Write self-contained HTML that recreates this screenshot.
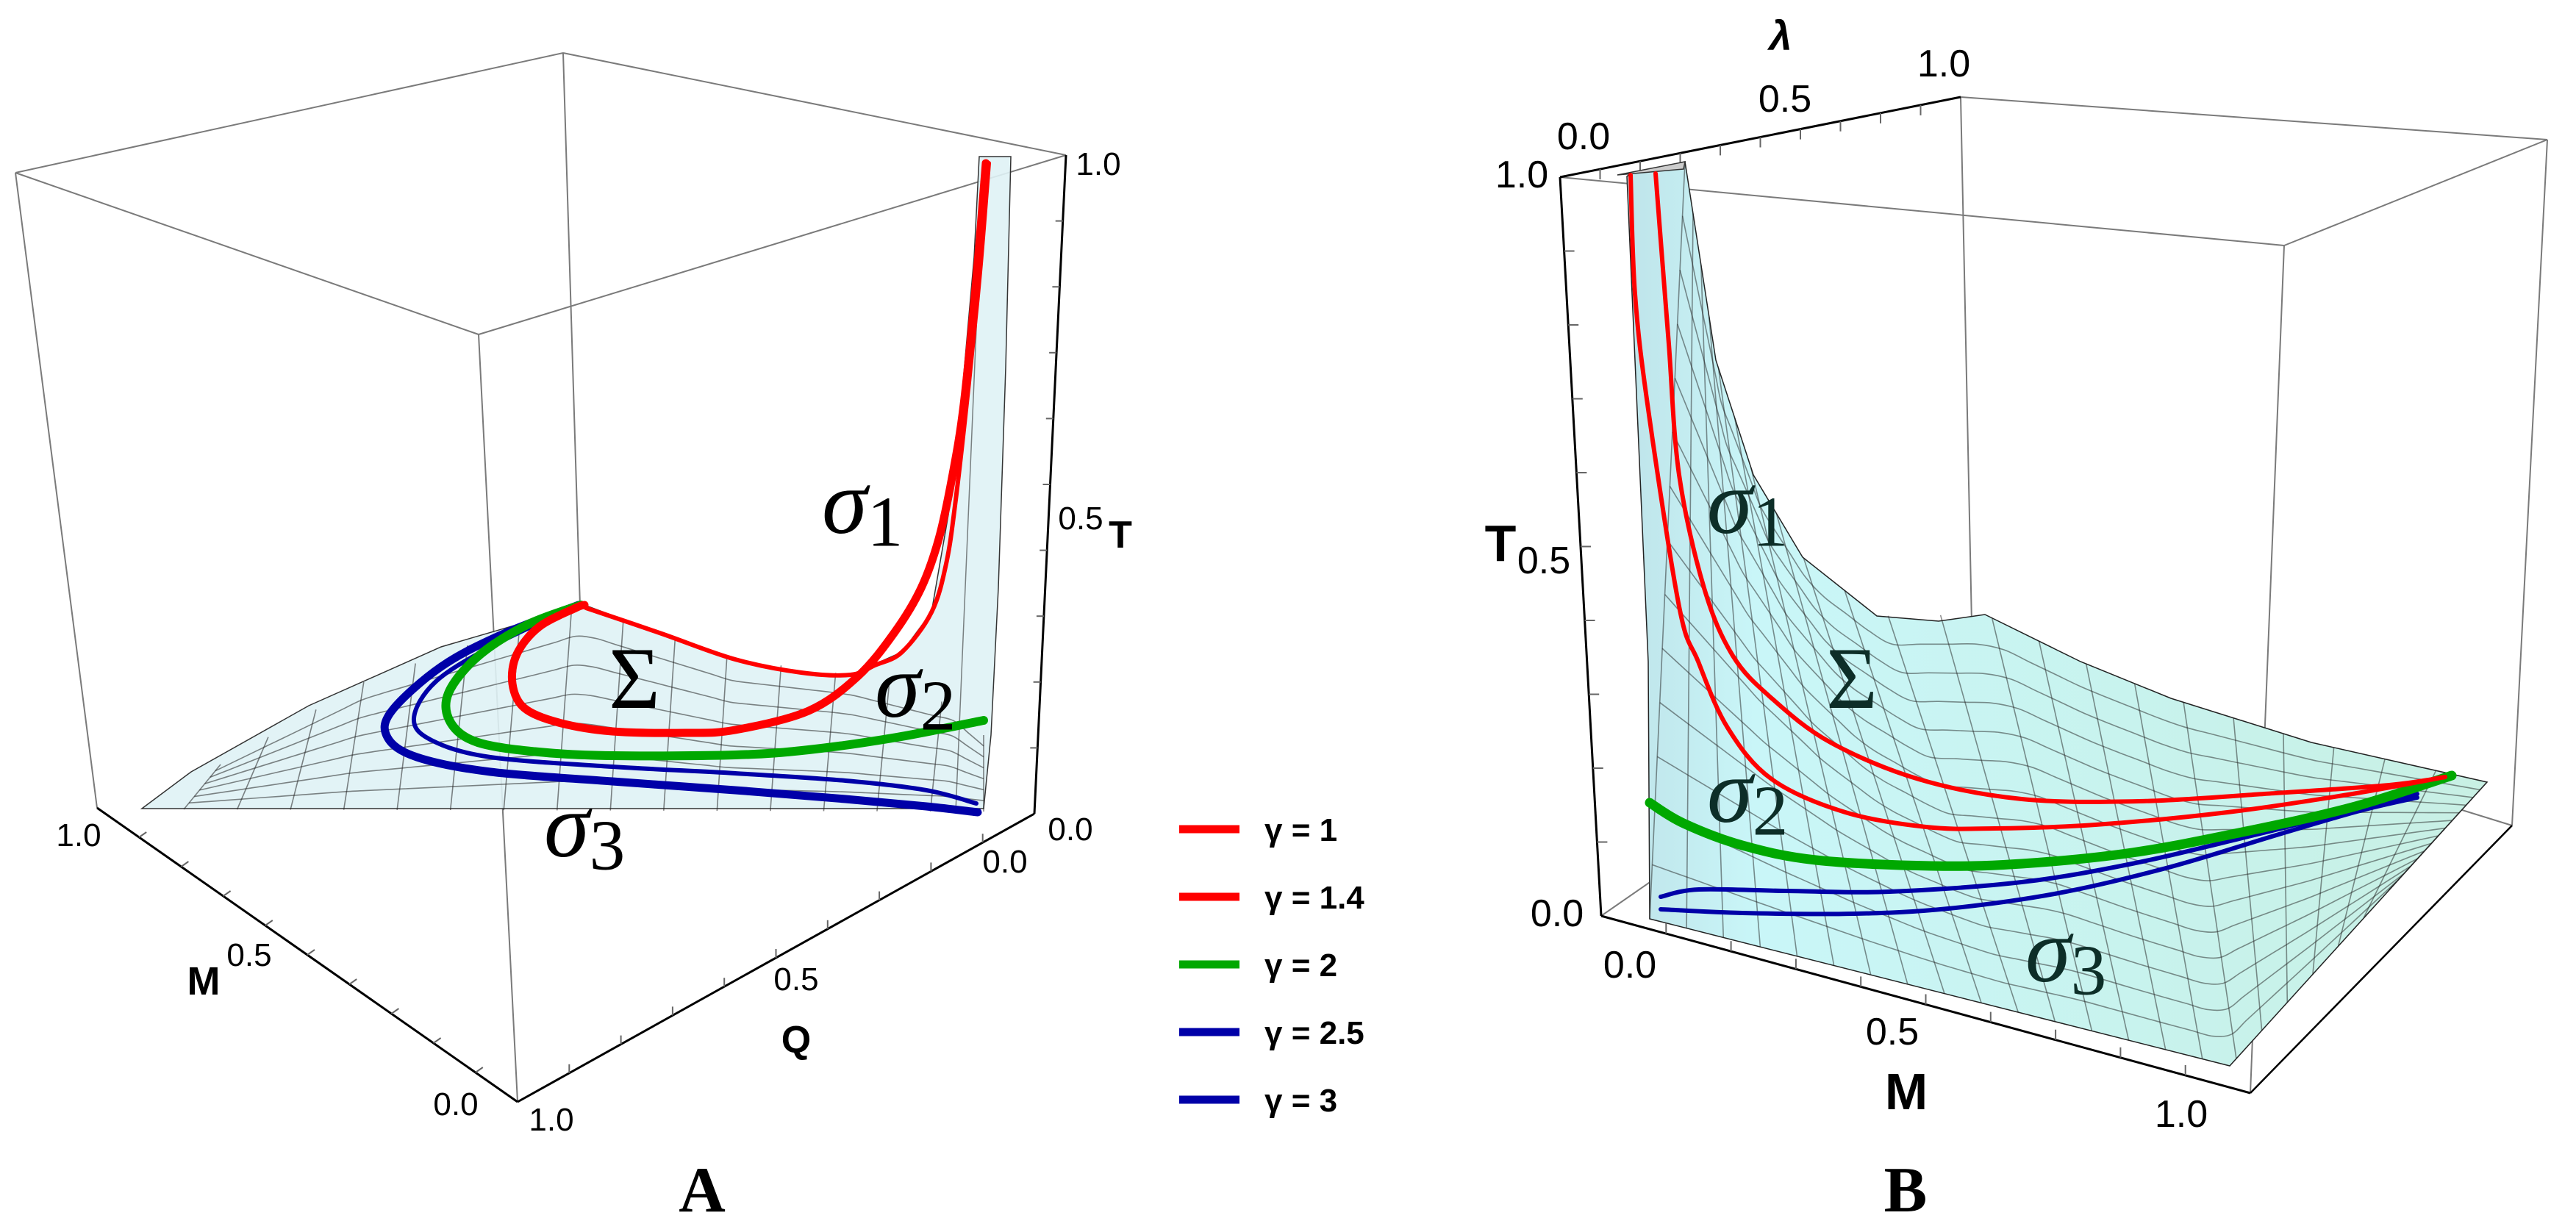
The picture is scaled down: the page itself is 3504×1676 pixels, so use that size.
<!DOCTYPE html>
<html><head><meta charset="utf-8">
<style>
html,body{margin:0;padding:0;background:#fff;}
svg{display:block;}
.tk{font-family:"Liberation Sans",sans-serif;fill:#000;}
.ax{font-family:"Liberation Sans",sans-serif;font-weight:bold;fill:#000;}
.gr{font-family:"Liberation Serif",serif;font-style:italic;}
.up{font-family:"Liberation Serif",serif;font-style:normal;}
</style></head>
<body>
<svg id="fig" width="3504" height="1676" viewBox="0 0 3504 1676" xmlns="http://www.w3.org/2000/svg">
<g id="panelA"></g>
<g id="panelB"></g>
<g id="legend"></g>
</svg>
<script>
// ---------- data (frame units: panel-relative screen frame) ----------
const legendLabels = ["\u03b3 = 1","\u03b3 = 1.4","\u03b3 = 2","\u03b3 = 2.5","\u03b3 = 3"];
const legendColors = ["#ff0000","#ff0000","#00a800","#0000a8","#0000a8"];
const tickLabels = ["0.0","0.5","1.0"];

// Panel A curves (frame u, v)
const aRedThickU = [795,783,733,703,697,713,760,833,933,1000,1100,1167,1217,1253,1277,1295,1311,1328,1341];
const aRedThickV = [823,827,853,890,930,963,983,995,997,993,967,920,860,800,733,650,550,380,222];
const aRedThinU = [797,900,1000,1090,1157,1190,1227,1267,1287,1300,1318,1333,1345];
const aRedThinV = [827,862,897,915,918,905,887,833,767,680,520,370,222];
const aGreenU = [790,717,650,610,613,650,733,833,1000,1100,1220,1338];
const aGreenV = [823,850,893,943,983,1010,1023,1028,1027,1020,1003,980];
const aBlueThinU = [787,673,593,563,587,667,833,1000,1150,1260,1328];
const aBlueThinV = [823,877,927,977,1007,1030,1043,1052,1062,1075,1093];
const aBlueThickU = [787,683,600,533,527,567,667,833,1000,1150,1260,1330];
const aBlueThickV = [823,863,907,967,1003,1030,1050,1063,1075,1087,1097,1105];

// Panel B curves (frame u, v)
const bRedUpU = [502,510,520,534,568,607,660,740,860,1000,1160,1330,1500,1576];
const bRedUpV = [236,340,468,646,800,892,950,1010,1060,1087,1090,1080,1068,1057];
const bRedLoU = [468,474,492,534,560,600,660,760,870,963,1100,1280,1450,1576];
const bRedLoV = [238,400,557,825,900,990,1060,1105,1125,1127,1122,1105,1080,1057];
const bGreenU = [494,540,620,720,877,1000,1150,1300,1450,1585];
const bGreenV = [1092,1120,1150,1170,1178,1175,1160,1132,1098,1055];
const bBlueUpU = [509,561,680,820,1000,1150,1300,1440,1538];
const bBlueUpV = [1220,1210,1212,1213,1200,1175,1140,1105,1080];
const bBlueLoU = [509,620,772,900,1050,1200,1350,1460,1538];
const bBlueLoV = [1237,1242,1243,1236,1215,1180,1135,1103,1085];

// ---------- axis functions ----------
const axA = {x:u=>u, y:v=>v};
const axB = {x:u=>1750+u, y:v=>v};

const NS="http://www.w3.org/2000/svg";
function el(tag, attrs, parent){const e=document.createElementNS(NS,tag);for(const k in attrs)e.setAttribute(k,attrs[k]);parent.appendChild(e);return e;}
function crPath(pts){
  let d="M"+pts[0][0].toFixed(1)+","+pts[0][1].toFixed(1);
  for(let i=0;i<pts.length-1;i++){
    const p0=pts[Math.max(0,i-1)],p1=pts[i],p2=pts[i+1],p3=pts[Math.min(pts.length-1,i+2)];
    const c1=[p1[0]+(p2[0]-p0[0])/6,p1[1]+(p2[1]-p0[1])/6];
    const c2=[p2[0]-(p3[0]-p1[0])/6,p2[1]-(p3[1]-p1[1])/6];
    d+=" C"+c1[0].toFixed(1)+","+c1[1].toFixed(1)+" "+c2[0].toFixed(1)+","+c2[1].toFixed(1)+" "+p2[0].toFixed(1)+","+p2[1].toFixed(1);
  }
  return d;
}
function pts(ax,U,V){return U.map((u,i)=>[ax.x(u),ax.y(V[i])]);}
function line(g,a,b,color,w){return el("line",{x1:a[0],y1:a[1],x2:b[0],y2:b[1],stroke:color,"stroke-width":w},g);}
function txt(g,x,y,s,cls,size,anchor,fill){const t=el("text",{x:x,y:y,class:cls,"font-size":size,"text-anchor":anchor||"middle"},g);if(fill)t.setAttribute("fill",fill);t.textContent=s;return t;}
function lerp(a,b,t){return [a[0]+(b[0]-a[0])*t,a[1]+(b[1]-a[1])*t];}
function polyAt(P,t){
  let L=[0];for(let i=1;i<P.length;i++)L.push(L[i-1]+Math.hypot(P[i][0]-P[i-1][0],P[i][1]-P[i-1][1]));
  const tg=t*L[L.length-1];for(let i=1;i<P.length;i++){if(tg<=L[i]){const f=(tg-L[i-1])/((L[i]-L[i-1])||1);return lerp(P[i-1],P[i],f);}}return P[P.length-1];
}
function curve(g,P,color,w,name){
  const p=el("path",{d:crPath(P),fill:"none",stroke:color,"stroke-width":w,"stroke-linecap":"round","stroke-linejoin":"round"},g);
  
  
  return p;
}
function mesh(g,C1,C2,n,m,op){
  for(let i=0;i<=n;i++){const a=polyAt(C1,i/n),b=polyAt(C2,i/n);line(g,a,b,"#222",1.6).setAttribute("opacity",op);}
  for(let j=1;j<m;j++){const P=[];for(let i=0;i<=40;i++){const a=polyAt(C1,i/40),b=polyAt(C2,i/40);P.push(lerp(a,b,j/m));}
    el("path",{d:crPath(P),fill:"none",stroke:"#222","stroke-width":1.6,opacity:op},g);}
}
function sig(g,x,y,sub,size,fill){const t=el("text",{x:x,y:y,class:"gr","font-size":size,fill:fill},g);t.textContent="\u03c3";
  const s=el("tspan",{"font-size":size*0.78,dy:size*0.14,style:"font-style:normal"},t);s.textContent=sub;return t;}

// ---------- Panel A ----------
const gA=document.getElementById("panelA");
const A={tl:[21,235],bt:[766,72],tr:[1450,211],ft:[651,455],lb:[132,1099],fb:[704,1499],rb:[1407,1107],bb:[789,824]};
[[A.tl,A.bt],[A.bt,A.tr],[A.tr,A.ft],[A.ft,A.tl],[A.tl,A.lb],[A.ft,A.fb],[A.bt,A.bb]].forEach(e=>line(gA,e[0],e[1],"#7a7a7a",2));
const surfA=[[193,1100],[260,1050],[420,960],[600,880],[795,823],[900,862],[1000,897],[1090,915],[1157,918],[1227,887],[1267,833],[1290,700],[1310,520],[1325,350],[1332,213],[1375,213],[1368,500],[1358,800],[1348,1000],[1338,1100]];
const sA=el("path",{d:"M"+surfA.map(p=>p.join(",")).join(" L")+" Z",fill:"#dff2f5",stroke:"#333","stroke-width":1.5,"fill-opacity":0.9},gA);

const mA=el("g",{},gA);
mesh(mA,[[250,1101],[1338,1104]],[[300,1040],[500,925],[795,823],[1000,897],[1157,918],[1300,960],[1338,1000]],15,7,0.55);
line(gA,[1300,1104],[1330,400],"#333",1.5).setAttribute("opacity",0.6);
line(gA,A.lb,A.fb,"#000",3);line(gA,A.fb,A.rb,"#000",3);line(gA,A.tr,A.rb,"#000",3);
for(let i=1;i<10;i++){const p=lerp(A.lb,A.fb,i/10);line(gA,p,[p[0]+10,p[1]-7],"#666",2);
  const q=lerp(A.fb,A.rb,i/10);line(gA,q,[q[0],q[1]-12],"#666",2);
  const r=lerp(A.tr,A.rb,i/10);line(gA,r,[r[0]-10,r[1]],"#666",2);}
curve(gA,pts(axA,aBlueThickU,aBlueThickV),"#0000a8",11,"curve-a-gamma-3");
curve(gA,pts(axA,aBlueThinU,aBlueThinV),"#0000a8",6,"curve-a-gamma-2-5");
curve(gA,pts(axA,aGreenU,aGreenV),"#00a800",12,"curve-a-gamma-2");
curve(gA,pts(axA,aRedThinU,aRedThinV),"#ff0000",6,"curve-a-gamma-1");
curve(gA,pts(axA,aRedThickU,aRedThickV),"#ff0000",11,"curve-a-gamma-1-4");
txt(gA,1494,238,tickLabels[2],"tk",44);
txt(gA,1470,720,tickLabels[1],"tk",44);txt(gA,1524,745,"T","ax",52);
txt(gA,1456,1143,tickLabels[0],"tk",44);
txt(gA,1367,1187,tickLabels[0],"tk",44);txt(gA,1083,1347,tickLabels[1],"tk",44);txt(gA,1083,1432,"Q","ax",52);txt(gA,750,1538,tickLabels[2],"tk",44);
txt(gA,107,1151,tickLabels[2],"tk",44);txt(gA,277,1353,"M","ax",54);txt(gA,339,1314,tickLabels[1],"tk",44);txt(gA,620,1517,tickLabels[0],"tk",44);
sig(gA,1118,725,"1",125,"#000");sig(gA,1190,975,"2",125,"#000");sig(gA,740,1165,"3",125,"#000");
txt(gA,863,963,"\u03a3","up",120,"middle","#000");
txt(gA,955,1648,"A","up",88,"middle","#000").setAttribute("font-weight","bold");

// ---------- Legend ----------
const gL=document.getElementById("legend");
legendLabels.forEach((lab,i)=>{
  const y=1128+i*92;
  const l=line(gL,[1604,y],[1686,y],legendColors[i],11);
  
  const t=txt(gL,1720,y+16,lab,"ax",44,"start");
  
});

// ---------- Panel B ----------
const gB=document.getElementById("panelB");
const B={tl:[2122,241],bt:[2667,132],tr:[3465,190],ft:[3107,334],lb:[2178,1246],fb:[3061,1487],rb:[3417,1123],bk:[2683,896]};
[[B.bt,B.tr],[B.tr,B.ft],[B.tl,B.ft],[B.ft,B.fb],[B.tr,B.rb],[B.bt,B.bk],[B.bk,B.lb],[B.bk,B.rb]].forEach(e=>line(gB,e[0],e[1],"#7a7a7a",2));
line(gB,B.tl,B.bt,"#000",3);
const surfB=[[2213,240],[2218,236],[2292,220],[2334,490],[2385,646],[2452,758],[2553,838],[2637,845],[2700,836],[2830,900],[2953,950],[3144,1010],[3383,1064],[3033,1450],[2244,1250],[2242,900]];
const defs=el("defs",{},gB);
const lg=el("linearGradient",{id:"gb",x1:"0",y1:"0",x2:"1",y2:"0"},defs);
el("stop",{offset:"0","stop-color":"#bfe4ea"},lg);el("stop",{offset:"0.15","stop-color":"#c9f6f8"},lg);el("stop",{offset:"1","stop-color":"#c8f0e4"},lg);
const sB=el("path",{d:"M"+surfB.map(p=>p.join(",")).join(" L")+" Z",fill:"url(#gb)",stroke:"#222","stroke-width":1.5},gB);

const mB=el("g",{},gB);
mesh(mB,[[2244,1250],[3033,1450],[3250,1210]],[[2292,220],[2334,490],[2385,646],[2452,758],[2553,838],[2700,836],[2830,900],[2953,950],[3144,1010],[3383,1064]],22,14,0.5);
line(gB,B.tl,B.lb,"#000",3);line(gB,B.lb,B.fb,"#000",3);line(gB,B.fb,B.rb,"#000",2.5);
for(let i=1;i<10;i++){const p=lerp(B.tl,B.lb,i/10);line(gB,p,[p[0]+14,p[1]],"#666",2);
  const q=lerp(B.lb,B.fb,i/10);line(gB,q,[q[0],q[1]-14],"#666",2);
  const r=lerp(B.tl,B.bt,i/10);line(gB,r,[r[0],r[1]+14],"#666",2);}
el("path",{d:"M2200,238 L2292,220 L2290,230 Z",fill:"#ccc",stroke:"#333","stroke-width":1.5},gB);
curve(gB,pts(axB,bBlueLoU,bBlueLoV),"#0000a8",6,"curve-b-gamma-3");
curve(gB,pts(axB,bBlueUpU,bBlueUpV),"#0000a8",6,"curve-b-gamma-2-5");
curve(gB,pts(axB,bGreenU,bGreenV),"#00a800",13,"curve-b-gamma-2");
curve(gB,pts(axB,bRedLoU,bRedLoV),"#ff0000",6,"curve-b-gamma-1");
curve(gB,pts(axB,bRedUpU,bRedUpV),"#ff0000",6,"curve-b-gamma-1-4");
txt(gB,2070,255,tickLabels[2],"tk",52);txt(gB,2154,203,tickLabels[0],"tk",52);
txt(gB,2428,152,tickLabels[1],"tk",52);txt(gB,2644,104,tickLabels[2],"tk",52);
const lam=txt(gB,2422,68,"\u03bb","ax",56);lam.setAttribute("font-style","italic");
txt(gB,2041,763,"T","ax",70);txt(gB,2100,780,tickLabels[1],"tk",52);txt(gB,2118,1260,tickLabels[0],"tk",52);
txt(gB,2217,1330,tickLabels[0],"tk",52);txt(gB,2574,1421,tickLabels[1],"tk",52);txt(gB,2593,1509,"M","ax",70);txt(gB,2967,1533,tickLabels[2],"tk",52);
sig(gB,2322,725,"1",125,"#0d2e28");sig(gB,2322,1118,"2",125,"#0d2e28");sig(gB,2755,1335,"3",125,"#0d2e28");
txt(gB,2519,963,"\u03a3","up",120,"middle","#0d2e28");
txt(gB,2592,1648,"B","up",88,"middle","#000").setAttribute("font-weight","bold");
</script>
</body></html>
